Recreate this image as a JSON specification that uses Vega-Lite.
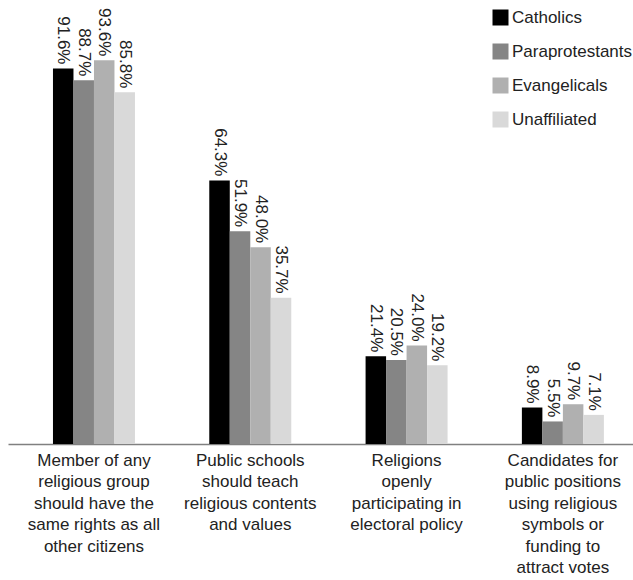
{
  "$schema": "https://vega.github.io/schema/vega-lite/v6.json",
  "width": 625,
  "height": 444,
  "autosize": {"type": "none"},
  "padding": {"left": 8, "top": 0, "right": 0, "bottom": 136},
  "background": "white",
  "config": {
    "view": {"stroke": null},
    "font": "Liberation Sans"
  },
  "data": {
    "values": [
      {"statement": "Member of any religious group should have the same rights as all other citizens", "group": "Catholics", "pct": 91.6, "label": "91.6%"},
      {"statement": "Member of any religious group should have the same rights as all other citizens", "group": "Paraprotestants", "pct": 88.7, "label": "88.7%"},
      {"statement": "Member of any religious group should have the same rights as all other citizens", "group": "Evangelicals", "pct": 93.6, "label": "93.6%"},
      {"statement": "Member of any religious group should have the same rights as all other citizens", "group": "Unaffiliated", "pct": 85.8, "label": "85.8%"},
      {"statement": "Public schools should teach religious contents and values", "group": "Catholics", "pct": 64.3, "label": "64.3%"},
      {"statement": "Public schools should teach religious contents and values", "group": "Paraprotestants", "pct": 51.9, "label": "51.9%"},
      {"statement": "Public schools should teach religious contents and values", "group": "Evangelicals", "pct": 48.0, "label": "48.0%"},
      {"statement": "Public schools should teach religious contents and values", "group": "Unaffiliated", "pct": 35.7, "label": "35.7%"},
      {"statement": "Religions openly participating in electoral policy", "group": "Catholics", "pct": 21.4, "label": "21.4%"},
      {"statement": "Religions openly participating in electoral policy", "group": "Paraprotestants", "pct": 20.5, "label": "20.5%"},
      {"statement": "Religions openly participating in electoral policy", "group": "Evangelicals", "pct": 24.0, "label": "24.0%"},
      {"statement": "Religions openly participating in electoral policy", "group": "Unaffiliated", "pct": 19.2, "label": "19.2%"},
      {"statement": "Candidates for public positions using religious symbols or funding to attract votes", "group": "Catholics", "pct": 8.9, "label": "8.9%"},
      {"statement": "Candidates for public positions using religious symbols or funding to attract votes", "group": "Paraprotestants", "pct": 5.5, "label": "5.5%"},
      {"statement": "Candidates for public positions using religious symbols or funding to attract votes", "group": "Evangelicals", "pct": 9.7, "label": "9.7%"},
      {"statement": "Candidates for public positions using religious symbols or funding to attract votes", "group": "Unaffiliated", "pct": 7.1, "label": "7.1%"}
    ]
  },
  "encoding": {
    "x": {
      "field": "statement",
      "type": "nominal",
      "sort": null,
      "scale": {"paddingInner": 0.4754, "paddingOuter": 0.237, "align": 0.607},
      "axis": {
        "title": null,
        "labelAngle": 0,
        "ticks": false,
        "domainColor": "#808080",
        "domainWidth": 1.5,
        "labelFontSize": 17,
        "labelColor": "#222222",
        "labelLineHeight": 21.5,
        "labelPadding": 8,
        "labelBaseline": "top",
        "labelLimit": 0,
        "labelExpr": "datum.value == 'Member of any religious group should have the same rights as all other citizens' ? ['Member of any', 'religious group', 'should have the', 'same rights as all', 'other citizens'] : datum.value == 'Public schools should teach religious contents and values' ? ['Public schools', 'should teach', 'religious contents', 'and values'] : datum.value == 'Religions openly participating in electoral policy' ? ['Religions', 'openly', 'participating in', 'electoral policy'] : ['Candidates for', 'public positions', 'using religious', 'symbols or', 'funding to', 'attract votes']"
      }
    },
    "xOffset": {
      "field": "group",
      "type": "nominal",
      "sort": ["Catholics", "Paraprotestants", "Evangelicals", "Unaffiliated"],
      "scale": {"paddingInner": 0, "paddingOuter": 0}
    },
    "y": {
      "field": "pct",
      "type": "quantitative",
      "scale": {"domain": [0, 108.3], "nice": false},
      "axis": null
    }
  },
  "layer": [
    {
      "mark": {"type": "bar"},
      "encoding": {
        "color": {
          "field": "group",
          "type": "nominal",
          "sort": ["Catholics", "Paraprotestants", "Evangelicals", "Unaffiliated"],
          "scale": {
            "domain": ["Catholics", "Paraprotestants", "Evangelicals", "Unaffiliated"],
            "range": ["#000000", "#858585", "#b0b0b0", "#d9d9d9"]
          },
          "legend": {
            "title": null,
            "orient": "none",
            "legendX": 484,
            "legendY": 9,
            "symbolType": "square",
            "symbolSize": 256,
            "symbolStrokeWidth": 0,
            "symbolOpacity": 1,
            "labelFontSize": 17,
            "labelColor": "#222222",
            "labelOffset": 3,
            "rowPadding": 16
          }
        }
      }
    },
    {
      "mark": {
        "type": "text",
        "angle": 90,
        "align": "right",
        "baseline": "middle",
        "dx": -4,
        "fontSize": 17,
        "color": "#222222"
      },
      "encoding": {
        "text": {"field": "label", "type": "nominal"},
        "detail": {"field": "group"}
      }
    }
  ]
}
